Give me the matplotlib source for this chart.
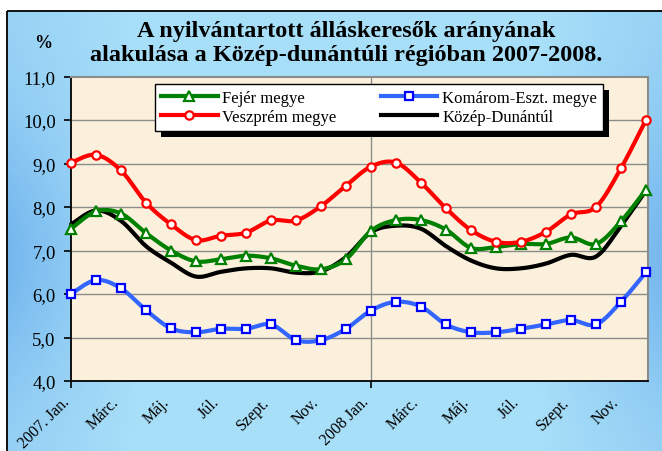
import numpy as np
import matplotlib
matplotlib.use("Agg")
import matplotlib.pyplot as plt
from matplotlib.lines import Line2D
from matplotlib.patches import Rectangle

# ---------------- data ----------------
months = ["2007. Jan.", "Febr.", "Márc.", "Ápr.", "Máj.", "Jún.", "Júl.", "Aug.", "Szept.", "Okt.", "Nov.", "Dec.",
          "2008 Jan.", "Febr.", "Márc.", "Ápr.", "Máj.", "Jún.", "Júl.", "Aug.", "Szept.", "Okt.", "Nov.", "Dec."]
xtick_labels = ["2007. Jan.", "Márc.", "Máj.", "Júl.", "Szept.", "Nov.",
                "2008 Jan.", "Márc.", "Máj.", "Júl.", "Szept.", "Nov."]
ytick_values = [4, 5, 6, 7, 8, 9, 10, 11]
ytick_labels = ["4,0", "5,0", "6,0", "7,0", "8,0", "9,0", "10,0", "11,0"]

fejer = [7.5, 7.9, 7.85, 7.4, 7.0, 6.75, 6.8, 6.88, 6.82, 6.65, 6.57, 6.8,
         7.45, 7.7, 7.7, 7.48, 7.06, 7.08, 7.15, 7.15, 7.3, 7.15, 7.67, 8.4]
komarom = [6.0, 6.32, 6.13, 5.63, 5.21, 5.12, 5.2, 5.2, 5.3, 4.94, 4.94, 5.2,
           5.62, 5.82, 5.71, 5.3, 5.12, 5.12, 5.2, 5.3, 5.4, 5.3, 5.82, 6.5]
veszprem = [9.02, 9.2, 8.84, 8.1, 7.6, 7.24, 7.34, 7.41, 7.69, 7.69, 8.02, 8.49,
            8.93, 9.02, 8.56, 7.97, 7.47, 7.2, 7.2, 7.43, 7.83, 8.0, 8.89, 10.0]
kozep = [7.6, 7.92, 7.68, 7.1, 6.72, 6.4, 6.51, 6.59, 6.59, 6.49, 6.52, 6.85,
         7.42, 7.57, 7.5, 7.1, 6.77, 6.59, 6.59, 6.7, 6.9, 6.86, 7.56, 8.38]

series_names = ["Fejér megye", "Komárom-Eszt. megye", "Veszprém megye", "Közép-Dunántúl"]

title_lines = ["A nyilvántartott álláskeresők arányának",
               "alakulása a Közép-dunántúli régióban 2007-2008."]

plt.rcParams["font.family"] = ["Liberation Serif", "DejaVu Serif"]

W, H = 662, 452
fig = plt.figure(figsize=(W / 100, H / 100), dpi=100)
fig.patch.set_facecolor("white")

# ---------------- background gradient panel ----------------
bg = fig.add_axes([0, 0, 1, 1], zorder=-10)
bg.set_xlim(0, W)
bg.set_ylim(H, 0)
bg.axis("off")
xx = np.linspace(0, 1, 300)
yy = np.linspace(0, 1, 200)
X, Y = np.meshgrid(xx, yy)
fx = np.clip(1 - np.minimum(X, 1 - X) / 0.2, 0, 1)
gy = np.exp(-((Y - 0.55) / 0.3) ** 2)
d = np.clip(fx * (0.3 + 0.7 * gy), 0, 1)
light = np.array([0.66, 0.875, 0.975])
dark = np.array([0.46, 0.72, 0.935])
img = light[None, None, :] * (1 - d[..., None]) + dark[None, None, :] * d[..., None]
bg.imshow(img, extent=[7, W + 5, H + 5, 12], aspect="auto", interpolation="bilinear")
bg.add_patch(Rectangle((7, 12), W, H, fill=False, edgecolor="black", lw=1.3))

# ---------------- main axes ----------------
ax_l, ax_r, ax_t, ax_b = 71, 647.7, 77.5, 382
ax = fig.add_axes([ax_l / W, 1 - ax_b / H, (ax_r - ax_l) / W, (ax_b - ax_t) / H])
ax.set_facecolor("#FBF0DC")
ax.set_xlim(0, 23.07)
ax.set_ylim(4, 11)

x = np.arange(len(months))


def smooth(xs, ys, n=24):
    pts = np.column_stack([xs, ys]).astype(float)
    P = np.vstack([pts[0], pts, pts[-1]])
    out = []
    for i in range(1, len(P) - 2):
        p0, p1, p2, p3 = P[i - 1], P[i], P[i + 1], P[i + 2]
        c1 = p1 + (p2 - p0) / 6.0
        c2 = p2 - (p3 - p1) / 6.0
        t = np.linspace(0, 1, n)[:, None]
        seg = ((1 - t) ** 3) * p1 + 3 * ((1 - t) ** 2) * t * c1 + 3 * (1 - t) * t ** 2 * c2 + t ** 3 * p2
        out.append(seg if i == 1 else seg[1:])
    out = np.vstack(out)
    return out[:, 0], out[:, 1]


styles = {
    "Fejér megye": dict(color="#008000", marker="^", mec="#008000", ms=6.5),
    "Komárom-Eszt. megye": dict(color="#3366FF", marker="s", mec="#0000FF", ms=6),
    "Veszprém megye": dict(color="#FF0000", marker="o", mec="#FF0000", ms=6),
    "Közép-Dunántúl": dict(color="#000000", marker=None, mec=None, ms=0),
}
data = {"Fejér megye": fejer, "Komárom-Eszt. megye": komarom,
        "Veszprém megye": veszprem, "Közép-Dunántúl": kozep}
z = {"Közép-Dunántúl": 3, "Komárom-Eszt. megye": 4, "Fejér megye": 5, "Veszprém megye": 6}

handles = {}
for name in series_names:
    st = styles[name]
    sx, sy = smooth(x, data[name])
    ax.plot(sx, sy, color=st["color"], lw=3.0, solid_capstyle="round", zorder=z[name], clip_on=False)
    if st["marker"]:
        ax.plot(x, data[name], ls="none", marker=st["marker"], ms=st["ms"], mfc="white",
                mec=st["mec"], mew=1.6, zorder=z[name] + 0.5, clip_on=False)
    handles[name] = Line2D([], [], color=st["color"], lw=3.0, marker=st["marker"],
                           ms=st["ms"] if st["marker"] else 0, mfc="white",
                           mec=st["mec"], mew=1.6)

# grid
for yv in ytick_values[1:-1]:
    ax.axhline(yv, color="#8C8C8C", lw=1.0, zorder=1)
ax.axvline(12, color="#8C8C8C", lw=1.0, zorder=1)

# spines
for s in ["top", "right"]:
    ax.spines[s].set_color("#8C8C8C")
    ax.spines[s].set_linewidth(1.5)
for s in ["left", "bottom"]:
    ax.spines[s].set_color("black")
    ax.spines[s].set_linewidth(1.3)

ax.set_yticks(ytick_values)
ax.set_yticklabels(ytick_labels, fontsize=13.5)
ax.tick_params(axis="y", direction="out", length=5, width=1.2, pad=6, colors="black")

ax.set_xticks([0, 12])
ax.set_xticklabels([])
ax.tick_params(axis="x", direction="out", length=5, width=1.2)

for i, lab in enumerate(xtick_labels):
    xi = 2 * i
    ax.annotate(lab, xy=(xi, 4), xytext=(1, -9), textcoords="offset points",
                rotation=45, ha="right", va="top", fontsize=11.5, annotation_clip=False)

# legend
order = ["Fejér megye", "Veszprém megye", "Komárom-Eszt. megye", "Közép-Dunántúl"]
lx0 = (155 - ax_l) / (ax_r - ax_l)
lx1 = (603 - ax_l) / (ax_r - ax_l)
ly0 = (ax_b - 132) / (ax_b - ax_t)
ly1 = (ax_b - 83) / (ax_b - ax_t)
leg = ax.legend([handles[n] for n in order], order, ncol=2, loc="lower left",
                bbox_to_anchor=(lx0, ly0, lx1 - lx0, ly1 - ly0), mode="expand",
                borderaxespad=0, fontsize=12, handlelength=3.4, handletextpad=0.3,
                frameon=True, fancybox=False, edgecolor="black", facecolor="white",
                framealpha=1, labelspacing=0.2, borderpad=0.35, columnspacing=1.0)
leg.get_frame().set_linewidth(1.0)
leg.set_zorder(20)

fig.canvas.draw()
bb = leg.get_window_extent()
shadow = Rectangle((bb.x0 + 6, bb.y0 - 6), bb.width, bb.height, transform=None,
                   facecolor="black", edgecolor="none", zorder=19)
ax.add_artist(shadow)

# titles
fig.text(346 / W, 1 - 31 / H, title_lines[0], ha="center", va="center",
         fontsize=17.5, fontweight="bold")
fig.text(346 / W, 1 - 56 / H, title_lines[1], ha="center", va="center",
         fontsize=17.5, fontweight="bold")
fig.text(43 / W, 1 - 44 / H, "%", ha="center", va="center", fontsize=13, fontweight="bold")

fig.savefig("out.png", dpi=100)
